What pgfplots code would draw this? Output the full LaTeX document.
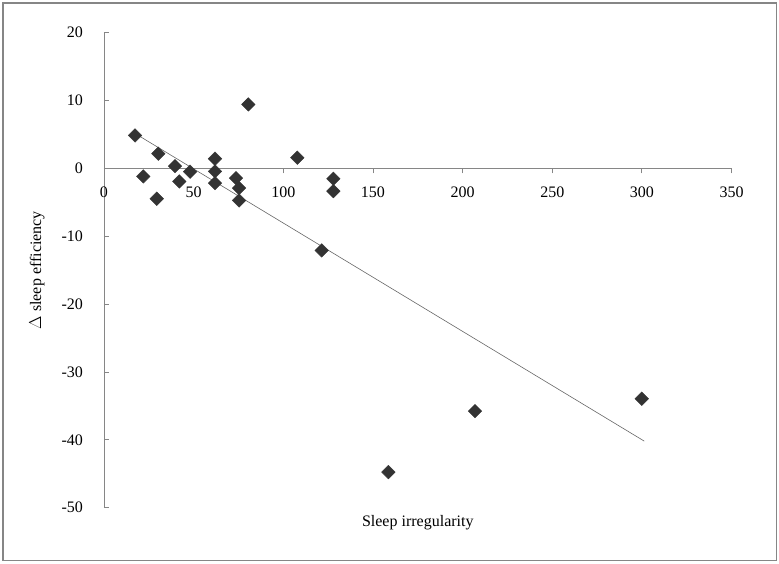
\documentclass[border=0pt]{standalone}
\usepackage{pgfplots}
\pgfplotsset{compat=1.18}
\usepackage{fontspec}
\setmainfont{Liberation Serif}
\definecolor{axgray}{HTML}{868686}
\definecolor{mk}{HTML}{333333}
\definecolor{ln}{HTML}{666666}
\begin{document}
\begin{tikzpicture}[x=1pt,y=1pt]
\begin{axis}[
  at={(0,0)}, anchor=south west,
  scale only axis, width=627.6pt, height=475pt,
  xmin=0, xmax=350, ymin=-50, ymax=20,
  axis lines=middle,
  axis line style={axgray, line width=0.9pt, -},
  xtick={0,50,...,350}, ytick={-50,-40,...,20},
  major tick length=5pt,
  x tick style={axgray, line width=0.9pt, yshift=-2.5pt},
  y tick style={axgray, line width=0.9pt, xshift=2.5pt},
  tick label style={font=\fontsize{16}{18}\selectfont, text=black},
  /pgf/number format/assume math mode=true,
  xticklabel style={anchor=north, yshift=-12pt},
  yticklabel style={anchor=east, xshift=-15pt},
  hide obscured x ticks=false, hide obscured y ticks=false,
  xlabel={Sleep irregularity},
  ylabel={$\Delta$ sleep efficiency},
  label style={font=\fontsize{16}{18}\selectfont},
  x label style={at={(rel axis cs:0.5,0)}, anchor=center, yshift=-15pt},
  y label style={at={(rel axis cs:0,0.5)}, anchor=center, rotate=90, xshift=0pt, yshift=67pt},
  clip=false,
]
\addplot[only marks, mark=square*, mark size=4.8pt, mark options={rotate=45, fill=mk, draw=mk}] coordinates {
(17.3,4.86) (80.5,9.43) (30.3,2.17) (21.9,-1.18) (39.6,0.34) (42.0,-1.92)
(48.0,-0.49) (29.4,-4.47) (61.9,1.43) (61.9,-0.44) (61.9,-2.17) (73.6,-1.43)
(75.3,-2.90) (75.3,-4.72) (107.8,1.58) (127.9,-1.52) (127.9,-3.35)
(121.4,-12.08) (206.9,-35.77) (158.6,-44.75) (299.9,-33.94)
};
\addplot[ln, line width=0.6pt, no marks] coordinates {(17.3,5.15) (301.3,-40.19)};
\end{axis}
\pgfresetboundingbox
\useasboundingbox (-104,-56.3) rectangle (675,507.7);
\draw[axgray, line width=1.2pt] (-101,-52.8) rectangle (672.5,504.7);
\end{tikzpicture}
\end{document}
